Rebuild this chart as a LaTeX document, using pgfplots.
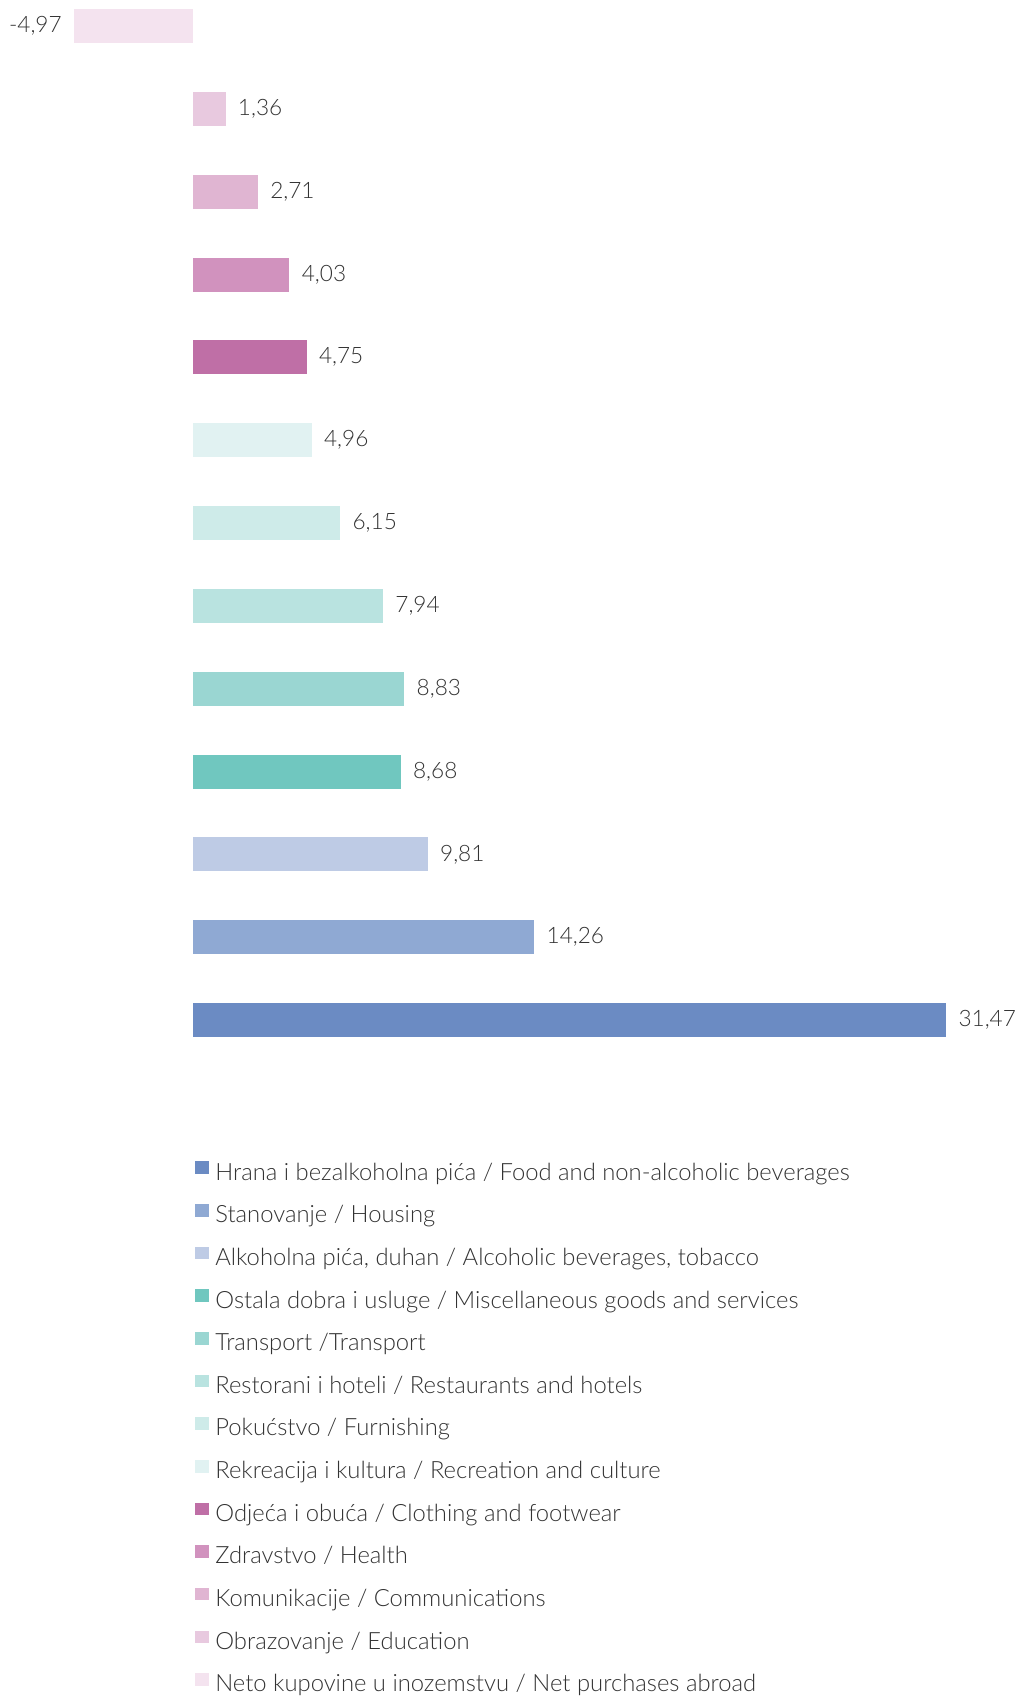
\documentclass[border=0pt]{standalone}
\usepackage{pgfplots}
\pgfplotsset{compat=1.18}
\usepackage{fontspec}
\setmainfont{Lato Light}
\definecolor{c1}{HTML}{6B8BC3}
\definecolor{c2}{HTML}{8FA9D3}
\definecolor{c3}{HTML}{BECBE5}
\definecolor{c4}{HTML}{70C7BF}
\definecolor{c5}{HTML}{9AD6D2}
\definecolor{c6}{HTML}{B9E3E0}
\definecolor{c7}{HTML}{CEEBE9}
\definecolor{c8}{HTML}{E1F2F2}
\definecolor{c9}{HTML}{BF6FA6}
\definecolor{c10}{HTML}{D192BE}
\definecolor{c11}{HTML}{E0B5D2}
\definecolor{c12}{HTML}{E8C9DF}
\definecolor{c13}{HTML}{F4E3EF}
\definecolor{txt}{HTML}{333333}
\begin{document}
\begin{tikzpicture}
\begin{axis}[
  width=508pt, height=848.5pt, scale only axis,
  hide axis, clip=false,
  xmin=-8.065, xmax=34.39,
  ymin=-8.17, ymax=12.314,
  xbar, bar shift=0pt, bar width=0.41,
  point meta=explicit symbolic,
  nodes near coords,
  every node near coord/.append style={font=\fontsize{11.3pt}{14pt}\selectfont, text=txt, inner xsep=6pt, inner ysep=0pt, anchor=west},
  legend cell align=left,
  legend style={draw=none, fill=none, inner sep=0pt, at={(0.1919,0.3158)}, anchor=north west,
    font=\fontsize{11.9pt}{14pt}\selectfont, text=txt, row sep=9.02pt, column sep=3pt,
    nodes={inner sep=0pt, text height=9pt, text depth=3pt}},
  legend image code/.code={\fill[#1] (0pt,0pt) rectangle (7pt,6.3pt);},
]
\path (rel axis cs:0,0) rectangle (rel axis cs:1,1);
\addplot[fill=c1, draw=none] coordinates {(31.47,0) [31,47]};
\addlegendentry{Hrana i bezalkoholna pića / Food and non-alcoholic beverages}
\addplot[fill=c2, draw=none] coordinates {(14.26,1) [14,26]};
\addlegendentry{Stanovanje / Housing}
\addplot[fill=c3, draw=none] coordinates {(9.81,2) [9,81]};
\addlegendentry{Alkoholna pića, duhan / Alcoholic beverages, tobacco}
\addplot[fill=c4, draw=none] coordinates {(8.68,3) [8,68]};
\addlegendentry{Ostala dobra i usluge / Miscellaneous goods and services}
\addplot[fill=c5, draw=none] coordinates {(8.83,4) [8,83]};
\addlegendentry{Transport /Transport}
\addplot[fill=c6, draw=none] coordinates {(7.94,5) [7,94]};
\addlegendentry{Restorani i hoteli / Restaurants and hotels}
\addplot[fill=c7, draw=none] coordinates {(6.15,6) [6,15]};
\addlegendentry{Pokućstvo / Furnishing}
\addplot[fill=c8, draw=none] coordinates {(4.96,7) [4,96]};
\addlegendentry{Rekreacija i kultura / Recreation and culture}
\addplot[fill=c9, draw=none] coordinates {(4.75,8) [4,75]};
\addlegendentry{Odjeća i obuća / Clothing and footwear}
\addplot[fill=c10, draw=none] coordinates {(4.03,9) [4,03]};
\addlegendentry{Zdravstvo / Health}
\addplot[fill=c11, draw=none] coordinates {(2.71,10) [2,71]};
\addlegendentry{Komunikacije / Communications}
\addplot[fill=c12, draw=none] coordinates {(1.36,11) [1,36]};
\addlegendentry{Obrazovanje / Education}
\addplot[fill=c13, draw=none, every node near coord/.append style={anchor=east}] coordinates {(-4.97,12) [-4,97]};
\addlegendentry{Neto kupovine u inozemstvu / Net purchases abroad}
\end{axis}
\pgfresetboundingbox
\useasboundingbox (current axis.south west) rectangle (current axis.north east);
\end{tikzpicture}
\end{document}
